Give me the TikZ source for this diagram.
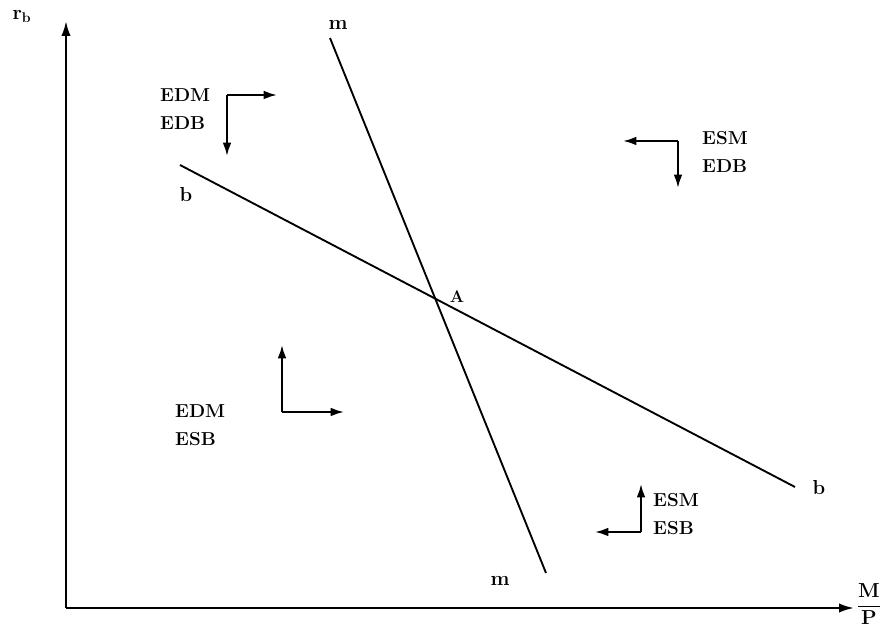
\documentclass[tikz,border=0pt]{standalone}
\usepackage{tikz}
\usetikzlibrary{arrows.meta, positioning, calc}

\begin{document}
\begin{tikzpicture}[
  x=0.03cm, y=-0.03cm,
  lbl/.style={font=\bfseries\fontsize{16}{19}\selectfont, inner sep=0pt, align=left, anchor=west},
  tag/.style={font=\bfseries\LARGE, inner sep=0pt},
  curve/.style={line width=1.6pt},
  axis/.style={-{Latex[length=4.5mm, width=2.8mm]}, line width=1.9pt},
  arr/.style={-{Latex[length=4mm, width=2.6mm]}, line width=1.7pt}
]
\useasboundingbox (0,0) rectangle (885,629);
% axes
\coordinate (O) at (66,608);
\coordinate (ytip) at (66,21);
\coordinate (xtip) at (854,608);
\draw[axis] (O) -- (ytip);
\draw[axis] (O) -- (xtip);
\node[tag] (rb) at (22,16) {r$_{\mathbf{b}}$};
\node[tag] (mp) at (869,604) {$\displaystyle\mathbf{\frac{M}{P}}$};

% the two schedules
\coordinate (m1) at (330,38);
\coordinate (m2) at (546,573);
\coordinate (b1) at (180,165);
\coordinate (b2) at (795,487);
\draw[curve] (m1) -- (m2);
\draw[curve] (b1) -- (b2);
\node[tag] (mtop) at (338,25) {m};
\node[tag] (mbot) at (500,581) {m};
\node[tag] (btop) at (186,195) {b};
\node[tag] (bbot) at (819,488) {b};
\node[tag, font=\bfseries\Large] (A) at (457,297) {A};

% regions
\node[lbl] (nw) at (160,109) {EDM\\[5pt]EDB};
\node[lbl] (ne) at (702,152) {ESM\\[5pt]EDB};
\node[lbl] (sw) at (175,425) {EDM\\[5pt]ESB};
\node[lbl] (se) at (653,514) {ESM\\[5pt]ESB};

% direction arrows
\coordinate (c1) at (227,95);
\coordinate (c1r) at (277,95);
\coordinate (c1d) at (227,156);
\coordinate (c2) at (678,141);
\coordinate (c2l) at (623,141);
\coordinate (c2d) at (678,188);
\coordinate (c3) at (282,412);
\coordinate (c3u) at (282,345);
\coordinate (c3r) at (344,412);
\coordinate (c4) at (641,532);
\coordinate (c4u) at (641,484);
\coordinate (c4l) at (595,532);
\draw[arr] (c1) -- (c1r);
\draw[arr] (c1) -- (c1d);
\draw[arr] (c2) -- (c2l);
\draw[arr] (c2) -- (c2d);
\draw[arr] (c3) -- (c3u);
\draw[arr] (c3) -- (c3r);
\draw[arr] (c4) -- (c4u);
\draw[arr] (c4) -- (c4l);
\end{tikzpicture}
\end{document}
